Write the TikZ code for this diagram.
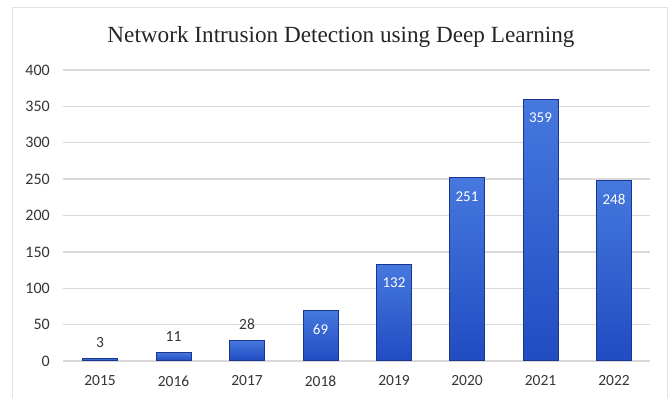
\documentclass[tikz,border=0pt]{standalone}
\usepackage{fontspec}
\setmainfont{Carlito}
\newfontfamily\titlefont{Liberation Serif}
\usetikzlibrary{positioning}
\definecolor{bartop}{HTML}{4678DE}
\definecolor{barbottom}{HTML}{214CC2}
\definecolor{bardark}{HTML}{1A3590}
\definecolor{gridgray}{HTML}{D9D9D9}
\definecolor{framegray}{HTML}{E3E3E3}
\definecolor{labelgray}{HTML}{353535}
\tikzset{
	bar/.style={draw=bardark, line width=1pt, top color=bartop, bottom color=barbottom,
		minimum width=35pt, inner sep=0pt, anchor=south},
	gridline/.style={draw=gridgray, line width=1.2pt},
	ticklabel/.style={font=\fontsize{16}{16}\selectfont, text=labelgray, anchor=east, inner sep=0pt},
	yearlabel/.style={font=\fontsize{15.5}{15.5}\selectfont, text=labelgray},
	inlabel/.style={font=\fontsize{15}{15}\selectfont, text=white, inner sep=0pt},
	outlabel/.style={font=\fontsize{15.5}{15.5}\selectfont, text=labelgray, inner sep=0pt},
}

\begin{document}
\begin{tikzpicture}[x=1pt, y=-1pt]
	\useasboundingbox[fill=white] (0,0) rectangle (672,398);
	\draw[framegray, line width=1pt] (12,400) |- (667,8) -- (667,400);
	\node[font=\titlefont\fontsize{23.2}{23.2}\selectfont, text=black!85] (title) at (341,37) {Network Intrusion Detection using Deep Learning};
	% grid and y axis labels
	\draw[gridline] (63,70)--(650,70);
	\draw[gridline] (63,106.4)--(650,106.4);
	\draw[gridline] (63,142.8)--(650,142.8);
	\draw[gridline] (63,179.1)--(650,179.1);
	\draw[gridline] (63,215.5)--(650,215.5);
	\draw[gridline] (63,251.9)--(650,251.9);
	\draw[gridline] (63,288.3)--(650,288.3);
	\draw[gridline] (63,324.6)--(650,324.6);
	\draw[gridline] (63,361)--(650,361);
	\node[ticklabel] (t400) at (50,70) {400};
	\node[ticklabel] (t350) at (50,106.4) {350};
	\node[ticklabel] (t300) at (50,142.8) {300};
	\node[ticklabel] (t250) at (50,179.1) {250};
	\node[ticklabel] (t200) at (50,215.5) {200};
	\node[ticklabel] (t150) at (50,251.9) {150};
	\node[ticklabel] (t100) at (50,288.3) {100};
	\node[ticklabel] (t50) at (50,324.6) {50};
	\node[ticklabel] (t0) at (50,361) {0};
	% bars
	\node[bar, minimum height=2.2pt] (b2015) at (100,361) {};
	\node[bar, minimum height=8pt] (b2016) at (173.5,361) {};
	\node[bar, minimum height=20.4pt] (b2017) at (247,361) {};
	\node[bar, minimum height=50.2pt] (b2018) at (320.5,361) {};
	\node[bar, minimum height=96pt] (b2019) at (394,361) {};
	\node[bar, minimum height=182.6pt] (b2020) at (467,361) {};
	\node[bar, minimum height=261.2pt] (b2021) at (540.5,361) {};
	\node[bar, minimum height=180.4pt] (b2022) at (614,361) {};
	% values
	\node[outlabel, above=10pt of b2015.north] (v2015) {3};
	\node[outlabel, above=10pt of b2016.north] (v2016) {11};
	\node[outlabel, above=10pt of b2017.north] (v2017) {28};
	\node[inlabel, below=14pt of b2018.north] (v2018) {69};
	\node[inlabel, below=14pt of b2019.north] (v2019) {132};
	\node[inlabel, below=14pt of b2020.north] (v2020) {251};
	\node[inlabel, below=14pt of b2021.north] (v2021) {359};
	\node[inlabel, below=14pt of b2022.north] (v2022) {248};
	% years
	\node[yearlabel] (y2015) at (100,381) {2015};
	\node[yearlabel] (y2016) at (173.5,381) {2016};
	\node[yearlabel] (y2017) at (247,381) {2017};
	\node[yearlabel] (y2018) at (320.5,381) {2018};
	\node[yearlabel] (y2019) at (394,381) {2019};
	\node[yearlabel] (y2020) at (467,381) {2020};
	\node[yearlabel] (y2021) at (540.5,381) {2021};
	\node[yearlabel] (y2022) at (614,381) {2022};
\end{tikzpicture}
\end{document}
